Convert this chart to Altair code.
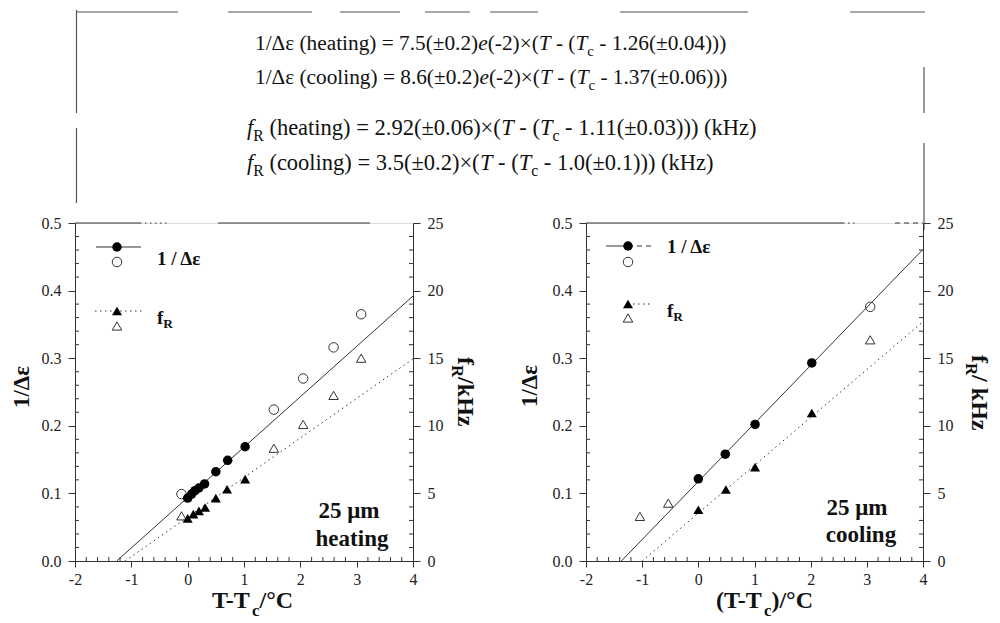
import altair as alt
import pandas as pd

SERIF = "Liberation Serif"
INK = "#111111"
AXC = "#333333"

# ---------------- data ----------------
# heating panel
h_eps_fill_x = [0.0, 0.07, 0.13, 0.20, 0.30, 0.50, 0.71, 1.02]
h_eps_fill_y = [0.093, 0.099, 0.104, 0.108, 0.114, 0.132, 0.149, 0.169]
h_eps_open_x = [-0.11, 1.53, 2.05, 2.59, 3.08]
h_eps_open_y = [0.099, 0.224, 0.270, 0.316, 0.365]
h_f_fill_x = [0.0, 0.10, 0.20, 0.31, 0.50, 0.70, 1.02]
h_f_fill_y = [3.15, 3.47, 3.71, 3.96, 4.65, 5.31, 6.05]
h_f_open_x = [-0.11, 1.53, 2.05, 2.59, 3.08]
h_f_open_y = [3.34, 8.34, 10.1, 12.25, 15.0]
h_eps_fit_x = [-1.26, 4.0]
h_eps_fit_y = [0.0, 0.392]
h_f_fit_x = [-1.11, 4.0]
h_f_fit_y = [0.0, 14.95]

# cooling panel
c_eps_fill_x = [0.0, 0.48, 1.01, 2.02]
c_eps_fill_y = [0.1215, 0.158, 0.202, 0.293]
c_eps_open_x = [3.06]
c_eps_open_y = [0.376]
c_f_fill_x = [0.0, 0.49, 1.01, 2.02]
c_f_fill_y = [3.79, 5.29, 6.94, 10.95]
c_f_open_x = [-1.04, -0.535, 3.06]
c_f_open_y = [3.30, 4.28, 16.36]
c_eps_fit_x = [-1.37, 4.0]
c_eps_fit_y = [0.0, 0.461]
c_f_fit_x = [-1.0, 4.0]
c_f_fit_y = [0.0, 17.7]

# axis ticks
x_major = [-2, -1, 0, 1, 2, 3, 4]
eps_major = [0.0, 0.1, 0.2, 0.3, 0.4, 0.5]
f_major = [0, 5, 10, 15, 20, 25]
x_minor = [v / 10 for v in range(-20, 41, 2) if v % 10 != 0]
eps_minor = [v / 100 for v in range(0, 51, 2) if v % 10 != 0]
f_minor = [v for v in range(0, 26) if v % 5 != 0]

# equation texts (runs: text, style)
eq1 = [("1/Δε (heating) = 7.5(±0.2)", "n"), ("e", "i"), ("(-2)×(", "n"), ("T", "i"),
       (" - (", "n"), ("T", "i"), ("c", "sub"), (" - 1.26(±0.04)))", "n")]
eq2 = [("1/Δε (cooling) = 8.6(±0.2)", "n"), ("e", "i"), ("(-2)×(", "n"), ("T", "i"),
       (" - (", "n"), ("T", "i"), ("c", "sub"), (" - 1.37(±0.06)))", "n")]
eq3 = [("f", "i"), ("R", "sub"), (" (heating) = 2.92(±0.06)×(", "n"), ("T", "i"),
       (" - (", "n"), ("T", "i"), ("c", "sub"), (" - 1.11(±0.03))) (kHz)", "n")]
eq4 = [("f", "i"), ("R", "sub"), (" (cooling) = 3.5(±0.2)×(", "n"), ("T", "i"),
       (" - (", "n"), ("T", "i"), ("c", "sub"), (" - 1.0(±0.1))) (kHz)", "n")]

# ---------------- text metrics (Times metrics, per 1000 em) ----------------
W_REG = {' ': 250, '(': 333, ')': 333, '-': 333, '.': 250, '/': 278, '=': 564, '±': 564,
         '×': 564, 'H': 722, 'R': 667, 'T': 611, 'a': 444, 'c': 444, 'e': 444, 'g': 500,
         'h': 500, 'i': 278, 'k': 500, 'l': 278, 'n': 500, 'o': 500, 't': 278, 'z': 444,
         'Δ': 612, 'ε': 439}
W_ITA = {'T': 556, 'e': 444, 'f': 278}
W_BOLD = {' ': 250, '(': 333, ')': 333, '-': 333, '/': 278, '°': 400, 'C': 722, 'T': 667,
          'c': 444, 'f': 333, 'R': 722, 'k': 556, 'H': 778, 'z': 444}


def tw(s, table, size):
    return sum(table.get(ch, W_REG.get(ch, 500)) for ch in s) * size / 1000.0


def runs(rlist, x0, y0, size, bold=False, sub_scale=0.7, sub_dy=8, vertical=False):
    rows = []
    pos = x0 if not vertical else y0
    for txt, st in rlist:
        if st == "sub":
            s = size * sub_scale
            table = W_BOLD if bold else W_REG
            dy = sub_dy
        elif st == "i":
            s = size
            table = W_ITA
            dy = 0
        else:
            s = size
            table = W_BOLD if bold else W_REG
            dy = 0
        lead = len(txt) - len(txt.lstrip(' '))
        lead_w = tw(' ' * lead, table, s)
        if vertical:
            rows.append(dict(px=x0 - dy, py=pos + lead_w, t=txt.strip(), size=s,
                             bold=bold, italic=(st == "i"), angle=90, align="left"))
        else:
            rows.append(dict(px=pos + lead_w, py=y0 + dy, t=txt.strip(), size=s,
                             bold=bold, italic=(st == "i"), angle=0, align="left"))
        pos += tw(txt, table, s)
    return rows


def single(t, x, y, size, bold=True, angle=0, align="center"):
    return [dict(px=x, py=y, t=t, size=size, bold=bold, italic=False, angle=angle, align=align)]


def text_layers(rows):
    layers = []
    df = pd.DataFrame(rows)
    for (b, it, ang, al), g in df.groupby(["bold", "italic", "angle", "align"]):
        m = alt.Chart(g.reset_index(drop=True)).mark_text(
            font=SERIF, fontWeight="bold" if b else "normal",
            fontStyle="italic" if it else "normal", align=al, baseline="middle",
            angle=int(ang), color=INK)
        layers.append(m.encode(x=alt.X("px:Q", scale=None), y=alt.Y("py:Q", scale=None),
                               text="t:N", size=alt.Size("size:Q", scale=None)))
    return layers


def rule_layers(segs):
    layers = []
    df = pd.DataFrame(segs, columns=["px", "py", "px2", "py2", "kind"])
    styles = {"solid": dict(strokeWidth=1), "dot": dict(strokeWidth=1, strokeDash=[1.5, 3.5]),
              "dash": dict(strokeWidth=1, strokeDash=[5, 4]), "gray": dict(strokeWidth=1.2)}
    for kind, g in df.groupby("kind"):
        col = "#555555" if kind == "gray" else AXC
        m = alt.Chart(g.reset_index(drop=True)).mark_rule(color=col, **styles[kind])
        layers.append(m.encode(x=alt.X("px:Q", scale=None), x2="px2:Q",
                               y=alt.Y("py:Q", scale=None), y2="py2:Q"))
    return layers


def symbol_layers(syms):
    layers = []
    df = pd.DataFrame(syms, columns=["px", "py", "shape", "filled"])
    for (shp, fl), g in df.groupby(["shape", "filled"]):
        if fl:
            m = alt.Chart(g.reset_index(drop=True)).mark_point(
                shape=shp, filled=True, size=90 if shp == "circle" else 100, color="black", opacity=1)
        else:
            m = alt.Chart(g.reset_index(drop=True)).mark_point(
                shape=shp, filled=False, size=90, stroke="#333333", strokeWidth=1, opacity=1)
        layers.append(m.encode(x=alt.X("px:Q", scale=None), y=alt.Y("py:Q", scale=None)))
    return layers


# ---------------- encodings ----------------
def xdef():
    return alt.X("x:Q", scale=alt.Scale(domain=[-2, 4], nice=False, zero=False),
                 axis=alt.Axis(values=x_major, labelExpr="'' + datum.value", title=None, grid=False,
                               tickSize=6, labelPadding=4, labelFlush=False, labelFont=SERIF,
                               labelFontSize=16, labelColor="#222222", domainColor=AXC,
                               tickColor=AXC))


def ydef_eps():
    return alt.Y("y:Q", scale=alt.Scale(domain=[0, 0.5], nice=False, zero=False),
                 axis=alt.Axis(values=eps_major, format=".1f", title=None, grid=False, orient="left",
                               tickSize=7, labelPadding=7, labelFont=SERIF, labelFontSize=16,
                               labelColor="#222222", domainColor=AXC, tickColor=AXC))


def ydef_f():
    return alt.Y("y:Q", scale=alt.Scale(domain=[0, 25], nice=False, zero=False),
                 axis=alt.Axis(values=f_major, format="d", title=None, grid=False, orient="right",
                               tickSize=7, labelPadding=7, labelFont=SERIF, labelFontSize=16,
                               labelColor="#222222", domainColor=AXC, tickColor=AXC))


def pts(xs, ys):
    return pd.DataFrame({"x": xs, "y": ys})


def panel(W, H, eps_fill, eps_open, f_fill, f_open, eps_fit, f_fit, extra):
    fit_e = alt.Chart(pts(*eps_fit)).mark_line(color="#333333", strokeWidth=1).encode(x=xdef(), y=ydef_eps())
    e_o = alt.Chart(pts(*eps_open)).mark_point(shape="circle", filled=False, size=90, stroke="#333333",
                                               strokeWidth=1, opacity=1).encode(x=xdef(), y=ydef_eps())
    e_f = alt.Chart(pts(*eps_fill)).mark_point(shape="circle", filled=True, size=90, color="black",
                                               opacity=1).encode(x=xdef(), y=ydef_eps())
    mi_e = alt.Chart(pd.DataFrame({"y": eps_minor})).mark_rule(color=AXC).encode(
        y=ydef_eps(), x=alt.value(0), x2=alt.value(4))
    mi_x = alt.Chart(pd.DataFrame({"x": x_minor})).mark_rule(color=AXC).encode(
        x=xdef(), y=alt.value(H), y2=alt.value(H - 4))
    A = alt.layer(mi_e, mi_x, fit_e, e_o, e_f)

    fit_f = alt.Chart(pts(*f_fit)).mark_line(color="#333333", strokeWidth=1,
                                             strokeDash=[1.5, 3.5]).encode(x=xdef(), y=ydef_f())
    f_o = alt.Chart(pts(*f_open)).mark_point(shape="triangle-up", filled=False, size=90, stroke="#333333",
                                             strokeWidth=1, opacity=1).encode(x=xdef(), y=ydef_f())
    f_f = alt.Chart(pts(*f_fill)).mark_point(shape="triangle-up", filled=True, size=100, color="black",
                                             opacity=1).encode(x=xdef(), y=ydef_f())
    mi_f = alt.Chart(pd.DataFrame({"y": f_minor})).mark_rule(color=AXC).encode(
        y=ydef_f(), x=alt.value(W), x2=alt.value(W - 4))
    B = alt.layer(mi_f, fit_f, f_o, f_f)

    return alt.layer(A, B, *extra).resolve_scale(y="independent").properties(width=W, height=H)


# ---------------- left panel decorations (pixels relative to plot origin) ----------------
L_rules = [
    # outer box (broken, as in the scan)
    (2, -211, 103, -211, "gray"), (153, -211, 237, -211, "gray"), (265, -211, 325, -211, "gray"),
    (350, -211, 395, -211, "gray"), (415, -211, 463, -211, "gray"), (545, -211, 673, -211, "gray"),
    (775, -211, 850, -211, "gray"),
    (1.5, -213, 1.5, -110, "gray"), (1.5, -95, 1.5, -20, "gray"),
    (849, -156, 849, -110, "gray"), (849, -80, 849, 7, "gray"),
    # partial top frame of the panel
    (0, 0, 65, 0, "solid"), (65, 0, 92, 0, "dot"), (143, 0, 295, 0, "solid"),
    # legend lines
    (21, 24, 66, 24, "solid"), (20, 88, 68, 88, "dot"),
]
L_syms = [(42, 24, "circle", True), (42, 39, "circle", False),
          (42, 88, "triangle-up", True), (42, 103, "triangle-up", False)]
EQ_A = 21.3
EQ_B = 22.5
L_text = []
L_text += runs(eq1, 180, -179, EQ_A, sub_dy=8)
L_text += runs(eq2, 180, -145, EQ_A, sub_dy=8)
L_text += runs(eq3, 172, -95, EQ_B, sub_dy=8)
L_text += runs(eq4, 172, -60, EQ_B, sub_dy=8)
L_text += single("1 / Δε", 82, 36, 19, align="left")
L_text += runs([("f", "n"), ("R", "sub")], 82, 95, 19, bold=True, sub_dy=6)
L_text += single("25 μm", 274, 288, 23)
L_text += single("heating", 277, 316, 23)
L_text += single("1/Δε", -53, 164, 23, angle=270)
L_text += runs([("f", "n"), ("R", "sub"), ("/kHz", "n")], 390, 134, 24, bold=True, sub_dy=8, vertical=True)
L_text += runs([("T-T", "n"), ("c", "sub"), ("/°C", "n")], 137, 378, 24, bold=True, sub_dy=10)

anchor = alt.Chart(pd.DataFrame({"px": [-66.5], "py": [-214.5], "px2": [-66.5], "py2": [-214.0]})).mark_rule(
    opacity=0, strokeWidth=1).encode(x=alt.X("px:Q", scale=None), x2="px2:Q",
                                      y=alt.Y("py:Q", scale=None), y2="py2:Q")

L_extra = rule_layers(L_rules) + symbol_layers(L_syms) + text_layers(L_text) + [anchor]

# ---------------- right panel decorations ----------------
R_rules = [
    (0, 0, 257, 0, "solid"), (257, 0, 272, 0, "dot"), (309, 0, 337, 0, "dash"),
    (20, 23, 42, 23, "solid"), (42, 23, 66, 23, "dash"), (42, 81, 64, 81, "dot"),
]
R_syms = [(42, 23, "circle", True), (42, 39, "circle", False),
          (42, 81, "triangle-up", True), (42, 95, "triangle-up", False)]
R_text = []
R_text += single("1 / Δε", 81, 24, 19, align="left")
R_text += runs([("f", "n"), ("R", "sub")], 81, 88, 19, bold=True, sub_dy=6)
R_text += single("25 μm", 271, 285, 23)
R_text += single("cooling", 275, 312, 23)
R_text += single("1/Δε", -56, 163, 23, angle=270)
R_text += runs([("f", "n"), ("R", "sub"), ("/ kHz", "n")], 393, 132, 24, bold=True, sub_dy=8, vertical=True)
R_text += runs([("(T-T", "n"), ("c", "sub"), (")/°C", "n")], 130, 378, 24, bold=True, sub_dy=10)

R_extra = rule_layers(R_rules) + symbol_layers(R_syms) + text_layers(R_text)

left = panel(338, 338,
             (h_eps_fill_x, h_eps_fill_y), (h_eps_open_x, h_eps_open_y),
             (h_f_fill_x, h_f_fill_y), (h_f_open_x, h_f_open_y),
             (h_eps_fit_x, h_eps_fit_y), (h_f_fit_x, h_f_fit_y), L_extra)
right = panel(337, 338,
              (c_eps_fill_x, c_eps_fill_y), (c_eps_open_x, c_eps_open_y),
              (c_f_fill_x, c_f_fill_y), (c_f_open_x, c_f_open_y),
              (c_eps_fit_x, c_eps_fit_y), (c_f_fit_x, c_f_fit_y), R_extra)

chart = alt.hconcat(left, right, spacing=173, bounds="flush", padding=0).configure_view(
    strokeWidth=0).configure(background="white")

chart.save("out.html", embed_options={"renderer": "svg", "actions": False})
